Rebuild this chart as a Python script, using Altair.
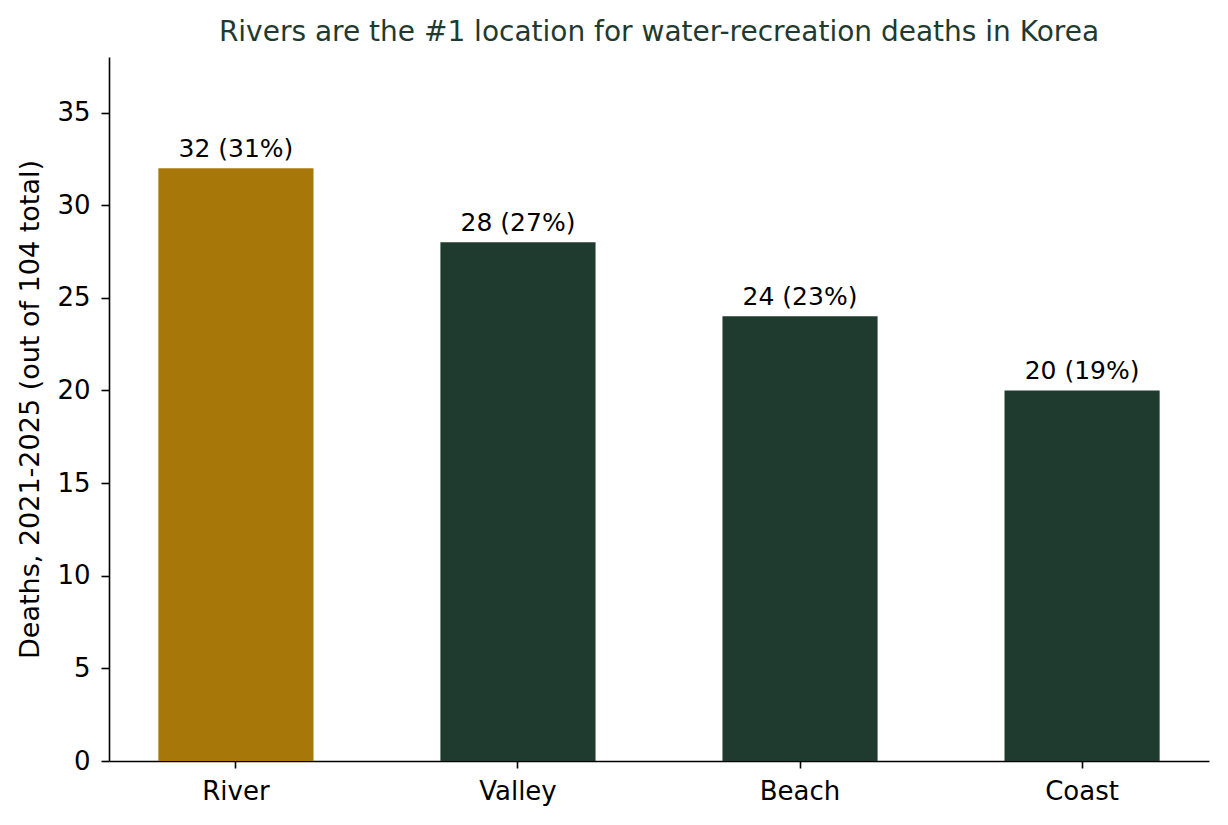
import altair as alt
import pandas as pd

locations = ["River", "Valley", "Beach", "Coast"]
deaths = [32, 28, 24, 20]
labels = ["32 (31%)", "28 (27%)", "24 (23%)", "20 (19%)"]
highlight = ["yes", "no", "no", "no"]

df = pd.DataFrame({"loc": locations, "deaths": deaths, "label": labels, "hl": highlight})

FONT = "DejaVu Sans"

base = alt.Chart(df).encode(
    x=alt.X("loc:N", sort=locations,
            scale=alt.Scale(paddingInner=0.45, paddingOuter=0.175),
            axis=alt.Axis(title=None, labelAngle=0, labelFontSize=26, labelFont=FONT,
                          labelColor="black", tickSize=7, tickColor="black", tickWidth=1.6,
                          domainColor="black", domainWidth=1.6, labelPadding=10)),
    y=alt.Y("deaths:Q", scale=alt.Scale(domain=[0, 38], nice=False),
            axis=alt.Axis(title="Deaths, 2021-2025 (out of 104 total)", values=[0, 5, 10, 15, 20, 25, 30, 35],
                          grid=False, labelFontSize=26, labelFont=FONT, labelColor="black",
                          titleFontSize=27, titleFont=FONT, titleFontWeight="normal", titleColor="black",
                          tickSize=8, tickColor="black", tickWidth=1.6, domainColor="black",
                          domainWidth=1.6, labelPadding=11, titlePadding=12)),
)

bars = base.mark_bar().encode(
    color=alt.Color("hl:N", scale=alt.Scale(domain=["yes", "no"], range=["#a8770a", "#1f3a2f"]), legend=None)
)

text = base.mark_text(dy=-11, baseline="alphabetic", fontSize=25, font=FONT, color="black").encode(
    text="label:N"
)

chart = (bars + text).properties(
    width=1100, height=704,
    title=alt.TitleParams("Rivers are the #1 location for water-recreation deaths in Korea",
                          fontSize=28, font=FONT, fontWeight="normal", color="#1f3a2f", offset=10),
    autosize=alt.AutoSizeParams(type="none"),
    padding={"left": 101, "top": 49, "right": 10, "bottom": 50},
).configure_view(stroke=None)

chart.save("out.html", embed_options={"renderer": "svg", "actions": False})
